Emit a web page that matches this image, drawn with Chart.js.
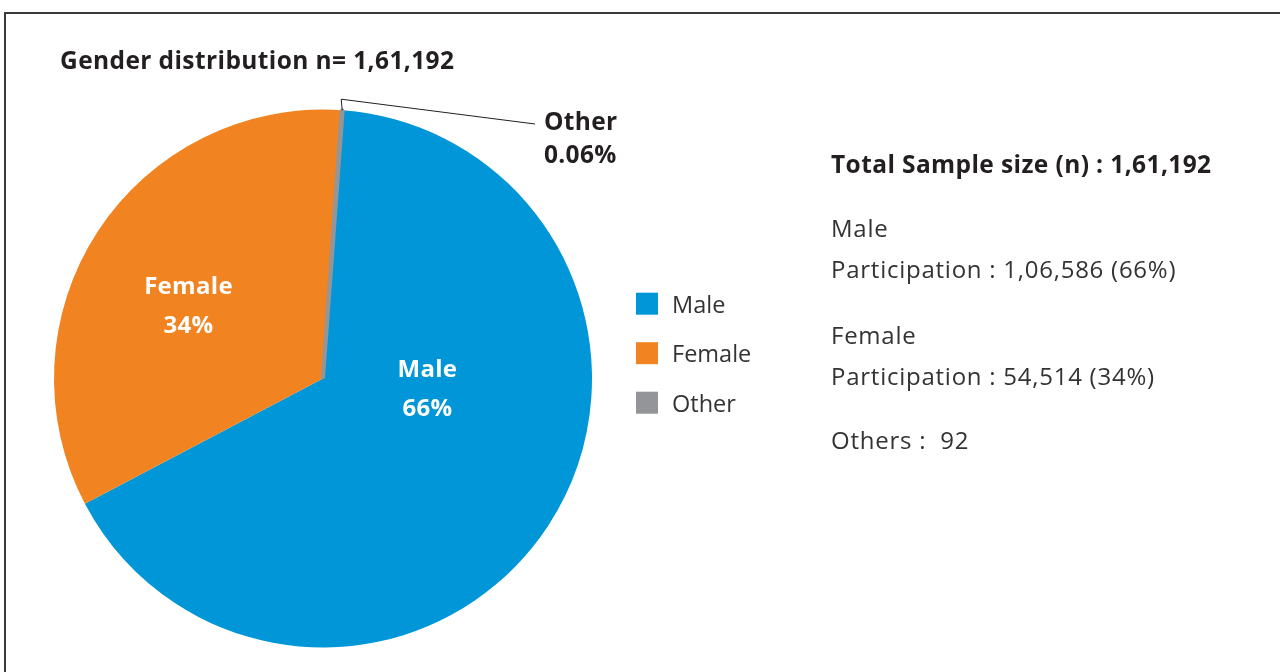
<!DOCTYPE html>
<html>
<head>
<meta charset="utf-8">
<script src="https://cdn.jsdelivr.net/npm/chart.js@4/dist/chart.umd.min.js"></script>
<style>
  html, body { margin: 0; padding: 0; background: #fff; }
  body { width: 1280px; height: 672px; position: relative; overflow: hidden; font-family: 'Open Sans', sans-serif; }
  #frame { position: absolute; left: 4px; top: 12px; width: 1400px; height: 800px; border-left: 2px solid #3a3a3a; border-top: 2px solid #3a3a3a; }
  #pieChart { position: absolute; left: 0; top: 0; }
  .title { position: absolute; left: 60px; top: 43px; font-size: 24.5px; font-weight: 700; letter-spacing: 0.4px; color: #231f20; white-space: nowrap; }
  .side { position: absolute; left: 831px; font-size: 24px; letter-spacing: 0.75px; color: #333; white-space: nowrap; }
  .side.bold { font-size: 24.5px; font-weight: 700; letter-spacing: 0.4px; color: #231f20; }
</style>
</head>
<body>
<div id="frame"></div>
<canvas id="pieChart" width="1280" height="672"></canvas>
<div class="title">Gender distribution n= 1,61,192</div>
<div class="side bold" style="top:147px">Total Sample size (n) : 1,61,192</div>
<div class="side" style="top:210.5px">Male</div>
<div class="side" style="top:252px">Participation : 1,06,586 (66%)</div>
<div class="side" style="top:317.5px">Female</div>
<div class="side" style="top:358.5px">Participation : 54,514 (34%)</div>
<div class="side" style="top:423px">Others :&nbsp; 92</div>
<script>
const categories = ['Male', 'Female', 'Other'];
const counts = [106586, 54514, 92];
const pctLabels = ['66%', '34%', '0.06%'];
const colors = ['#0096d8', '#f28321', '#939598'];

const ctx = document.getElementById('pieChart').getContext('2d');

// slice labels + legend + leader line for the tiny slice
const piePlugin = {
  id: 'pieText',
  afterDatasetsDraw(chart) {
    const c = chart.ctx;
    const meta = chart.getDatasetMeta(0);
    c.save();
    c.letterSpacing = '0.3px';
    meta.data.forEach((arc, i) => {
      const r = arc.outerRadius;
      if (i < 2) {
        // hand placed like the original (fractions of radius from centre)
        const off = i === 0 ? [0.388, 0.04] : [-0.5, -0.27];
        const x = arc.x + off[0] * r, y = arc.y + off[1] * r;
        c.fillStyle = '#fff';
        c.font = 'bold 24px "Open Sans"';
        c.textAlign = 'center';
        c.textBaseline = 'middle';
        c.fillText(categories[i], x, y - 19);
        c.fillText(pctLabels[i], x, y + 20);
      } else {
        const mid = (arc.startAngle + arc.endAngle) / 2;
        const px = arc.x + Math.cos(mid) * r;
        const py = arc.y + Math.sin(mid) * r;
        c.strokeStyle = '#231f20';
        c.lineWidth = 1;
        c.beginPath();
        c.moveTo(px, py);
        c.lineTo(px - 1, py - 11);
        c.lineTo(535, 124);
        c.stroke();
        c.fillStyle = '#231f20';
        c.font = 'bold 24.5px "Open Sans"';
        c.textAlign = 'left';
        c.textBaseline = 'middle';
        c.fillText(categories[i], 544, 123);
        c.fillText(pctLabels[i], 544, 156);
      }
    });
    // legend
    c.letterSpacing = '0px';
    categories.forEach((name, i) => {
      const base = 312.7 + i * 49.5;
      c.fillStyle = colors[i];
      c.fillRect(636, base - 20, 22, 22);
      c.fillStyle = '#333';
      c.font = '23.5px "Open Sans"';
      c.textAlign = 'left';
      c.textBaseline = 'alphabetic';
      c.fillText(name, 672, base);
    });
    c.restore();
  }
};

new Chart(ctx, {
  type: 'pie',
  data: {
    labels: categories,
    datasets: [{
      data: counts,
      backgroundColor: colors,
      borderColor: ['#0096d8', '#f28321', '#939598'],
      borderWidth: [0, 0, 4],
      hoverOffset: 0
    }]
  },
  options: {
    responsive: false,
    animation: false,
    rotation: 4.2,
    layout: { padding: { left: 52, right: 686, top: 107, bottom: 22 } },
    plugins: {
      legend: { display: false },
      tooltip: { enabled: false }
    }
  },
  plugins: [piePlugin]
});
</script>
</body>
</html>
